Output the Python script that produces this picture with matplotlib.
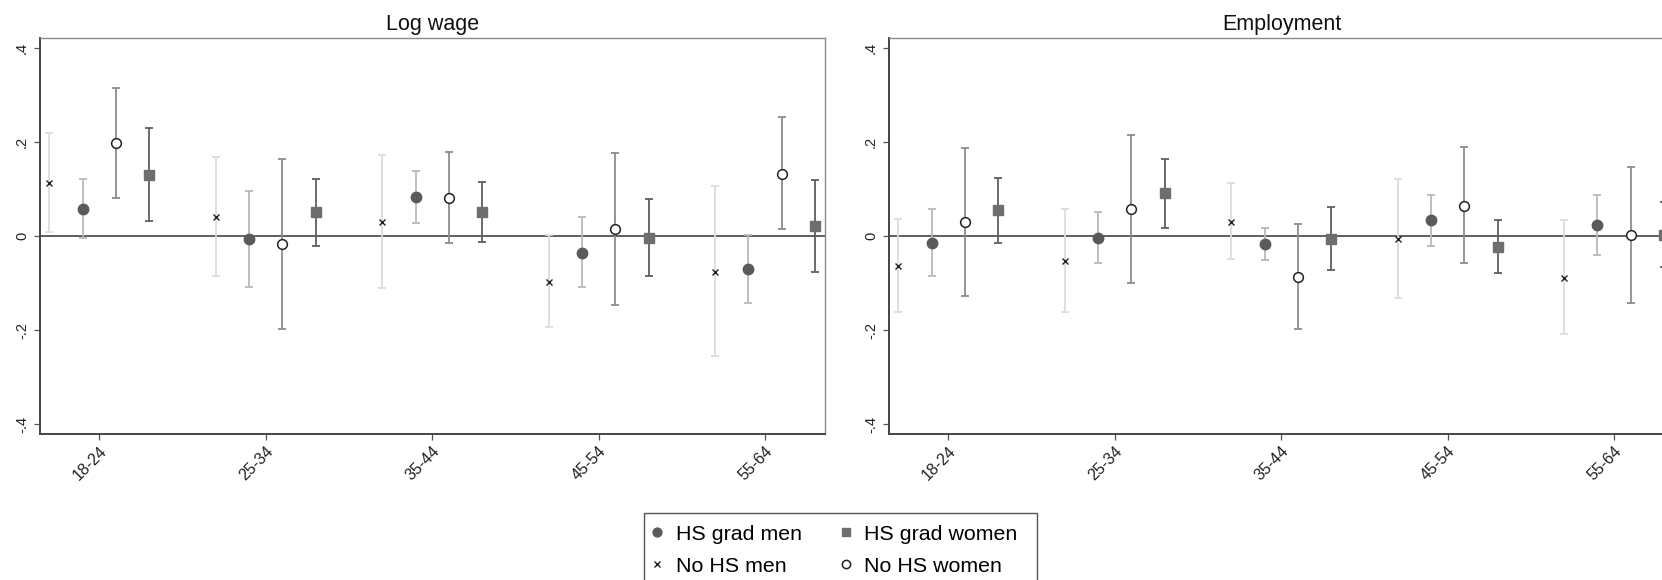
import numpy as np
import matplotlib
matplotlib.use("Agg")
import matplotlib.pyplot as plt
from matplotlib.lines import Line2D
from matplotlib.patches import Rectangle

plt.rcParams['font.family'] = ['Liberation Sans', 'DejaVu Sans']

age_groups = ['18-24', '25-34', '35-44', '45-54', '55-64']
series = ['No HS men', 'HS grad men', 'No HS women', 'HS grad women']

# Log wage: point estimate, upper and lower bound per age group
wage_nohs_men = [0.113, 0.041, 0.031, -0.097, -0.077]
wage_nohs_men_hi = [0.220, 0.169, 0.173, 0.003, 0.106]
wage_nohs_men_lo = [0.010, -0.084, -0.110, -0.194, -0.256]
wage_hs_men = [0.059, -0.006, 0.083, -0.036, -0.070]
wage_hs_men_hi = [0.122, 0.096, 0.139, 0.040, 0.003]
wage_hs_men_lo = [-0.003, -0.108, 0.028, -0.109, -0.143]
wage_nohs_women = [0.199, -0.017, 0.082, 0.015, 0.133]
wage_nohs_women_hi = [0.315, 0.165, 0.179, 0.177, 0.253]
wage_nohs_women_lo = [0.082, -0.198, -0.014, -0.146, 0.015]
wage_hs_women = [0.131, 0.051, 0.051, -0.004, 0.021]
wage_hs_women_hi = [0.231, 0.122, 0.116, 0.079, 0.120]
wage_hs_women_lo = [0.033, -0.020, -0.013, -0.085, -0.076]

# Employment
emp_nohs_men = [-0.063, -0.052, 0.031, -0.006, -0.088]
emp_nohs_men_hi = [0.037, 0.059, 0.113, 0.121, 0.034]
emp_nohs_men_lo = [-0.161, -0.161, -0.049, -0.131, -0.209]
emp_hs_men = [-0.014, -0.003, -0.016, 0.034, 0.023]
emp_hs_men_hi = [0.059, 0.052, 0.018, 0.088, 0.088]
emp_hs_men_lo = [-0.084, -0.057, -0.050, -0.021, -0.039]
emp_nohs_women = [0.031, 0.059, -0.087, 0.065, 0.002]
emp_nohs_women_hi = [0.188, 0.216, 0.026, 0.189, 0.147]
emp_nohs_women_lo = [-0.127, -0.099, -0.198, -0.057, -0.143]
emp_hs_women = [0.055, 0.091, -0.006, -0.023, 0.002]
emp_hs_women_hi = [0.125, 0.164, 0.062, 0.034, 0.073]
emp_hs_women_lo = [-0.014, 0.018, -0.072, -0.079, -0.065]

y_ticks = [-0.4, -0.2, 0, 0.2, 0.4]
y_tick_labels = ['-.4', '-.2', '0', '.2', '.4']

# marker style, marker face, marker edge, errorbar colour, size
styles = {
    'No HS men': dict(marker='x', mfc='#222222', mec='#222222', ecol='#dcdcdc', ms=4.5, mew=1.0),
    'HS grad men': dict(marker='o', mfc='#5a5a5a', mec='#5a5a5a', ecol='#b9b9b9', ms=7.5, mew=1.0),
    'No HS women': dict(marker='o', mfc='white', mec='#222222', ecol='#8c8c8c', ms=7, mew=1.1),
    'HS grad women': dict(marker='s', mfc='#6e6e6e', mec='#6e6e6e', ecol='#5f5f5f', ms=7.2, mew=1.0),
}
offsets = [-0.3, -0.1, 0.1, 0.3]

panels = [
    ('Log wage', [(wage_nohs_men, wage_nohs_men_lo, wage_nohs_men_hi),
                  (wage_hs_men, wage_hs_men_lo, wage_hs_men_hi),
                  (wage_nohs_women, wage_nohs_women_lo, wage_nohs_women_hi),
                  (wage_hs_women, wage_hs_women_lo, wage_hs_women_hi)]),
    ('Employment', [(emp_nohs_men, emp_nohs_men_lo, emp_nohs_men_hi),
                    (emp_hs_men, emp_hs_men_lo, emp_hs_men_hi),
                    (emp_nohs_women, emp_nohs_women_lo, emp_nohs_women_hi),
                    (emp_hs_women, emp_hs_women_lo, emp_hs_women_hi)]),
]

W, H = 1662, 580
fig = plt.figure(figsize=(W / 100, H / 100), dpi=100)
axes_rects = [[40 / W, 1 - 434 / H, 785 / W, 396 / H],
              [889 / W, 1 - 434 / H, 785 / W, 396 / H]]

x = np.arange(len(age_groups))
for rect, (title, data) in zip(axes_rects, panels):
    ax = fig.add_axes(rect)
    ax.axhline(0, color='#333333', lw=1.1, zorder=1)
    for off, name, (est, lo, hi) in zip(offsets, series, data):
        st = styles[name]
        est = np.array(est)
        yerr = [est - np.array(lo), np.array(hi) - est]
        ax.errorbar(x + off, est, yerr=yerr, fmt='none', ecolor=st['ecol'],
                    elinewidth=1.3, capsize=3, capthick=1.3, zorder=2)
        ax.plot(x + off, est, linestyle='none', marker=st['marker'], ms=st['ms'],
                mfc=st['mfc'], mec=st['mec'], mew=st['mew'], zorder=3)
    ax.set_xlim(-0.357, 4.36)
    ax.set_ylim(-0.421, 0.422)
    ax.set_yticks(y_ticks)
    ax.set_yticklabels(y_tick_labels, rotation=90, va='center', fontsize=10.5)
    ax.set_xticks(x)
    ax.set_xticklabels(age_groups, rotation=45, ha='right', rotation_mode='anchor', fontsize=11.5)
    ax.tick_params(axis='both', length=4, width=0.9, color='#555555', labelcolor='#222222')
    ax.tick_params(axis='y', pad=4)
    ax.tick_params(axis='x', pad=3)
    for side in ['left', 'bottom']:
        ax.spines[side].set_color('#444444')
        ax.spines[side].set_linewidth(1.4)
    for side in ['top', 'right']:
        ax.spines[side].set_color('#888888')
        ax.spines[side].set_linewidth(1.0)
    ax.set_title(title, fontsize=15.5, pad=6, color='#111111')

handles = []
labels = []
for name in ['HS grad men', 'No HS men', 'HS grad women', 'No HS women']:
    st = styles[name]
    handles.append(Line2D([], [], linestyle='none', marker=st['marker'],
                          ms=st['ms'] * 0.85, mfc=st['mfc'], mec=st['mec'], mew=st['mew']))
    labels.append(name)

# legend content; its box is drawn separately (it runs off the bottom edge)
leg = fig.legend(handles, labels, ncol=2, loc='upper left',
                 bbox_to_anchor=(640 / W, 1 - 513 / H), bbox_transform=fig.transFigure,
                 fontsize=15.4, frameon=False, borderaxespad=0,
                 handlelength=0.5, handletextpad=0.62, columnspacing=1.8,
                 labelspacing=0.6, borderpad=0.55)
fig.patches.append(Rectangle((644 / W, -0.1), (1037 - 644) / W, 1 - 513 / H + 0.1,
                             transform=fig.transFigure, fill=False,
                             edgecolor='#555555', linewidth=1.0))

fig.savefig('out.png', dpi=100)
